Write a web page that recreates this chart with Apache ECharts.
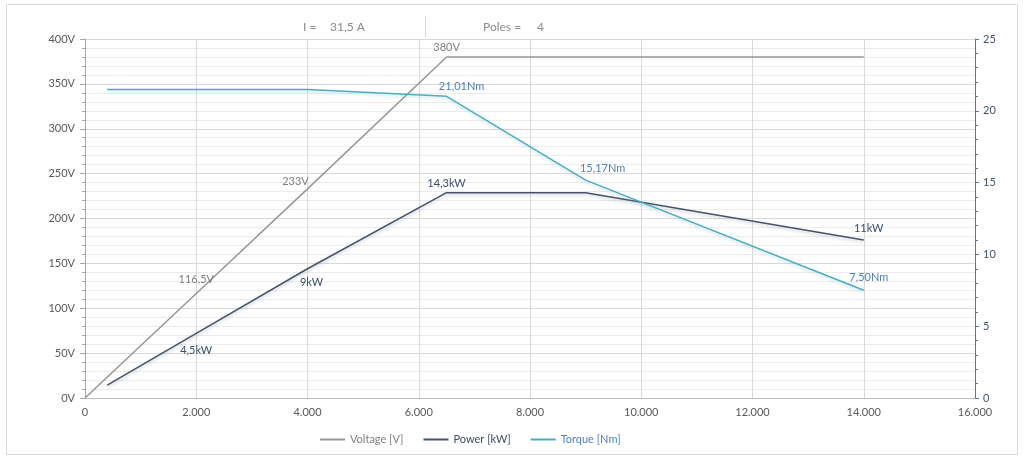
<!DOCTYPE html>
<html>
<head>
<meta charset="utf-8">
<script src="https://cdn.jsdelivr.net/npm/echarts@6/dist/echarts.min.js"></script>
<style>
html,body{margin:0;padding:0;background:#fff;}
#chart{width:1024px;height:461px;}
</style>
</head>
<body>
<div id="chart"></div>
<script>
// ---- data ----
var xTicks = [0, 2000, 4000, 6000, 8000, 10000, 12000, 14000, 16000];
var voltageRpm = [0, 2000, 4000, 6500, 14000];
var voltageV   = [0, 116.5, 233, 380, 380];
var voltageLabelIdx = [1, 2, 3];
var powerRpm = [400, 2000, 4000, 6500, 9000, 14000];
var powerKW  = [0.9, 4.5, 9, 14.3, 14.3, 11];
var powerLabelIdx = [1, 2, 3, 5];
var torqueRpm = [400, 2000, 4000, 6500, 9000, 14000];
var torqueNm  = [21.49, 21.49, 21.49, 21.01, 15.17, 7.50];
var torqueLabelIdx = [3, 4, 5];
var headerTexts = ['I =', '31,5 A', 'Poles =', '4'];

// ---- styles ----
var FONT = 'Lato, "Open Sans", sans-serif';
var cVolt = '#9a9591', cPow = '#44546a', cTorq = '#4bacc6';
var cVoltTxt = '#7f7f7f', cPowTxt = '#3b4e6b', cTorqTxt = '#4f81bd';
var TRANSP = 'rgba(0,0,0,0)';
var headerX = [303, 330, 483, 537];

var voltLabelStyle = {1:{position:'top',offset:[0,-2]}, 2:{position:'top',offset:[-12,4]}, 3:{position:'top',offset:[0,2]}};
var powLabelStyle = {1:{position:'bottom',offset:[0,6]}, 2:{position:'bottom',offset:[4,2]}, 3:{position:'top',offset:[0,2]}, 5:{position:'top',offset:[5,0]}};
var torqLabelStyle = {3:{position:'top',offset:[15,2]}, 4:{position:'top',offset:[17,0]}, 5:{position:'top',offset:[5,-1]}};

function comma(v){ return String(v).replace('.', ','); }

function buildData(xs, ys, labelIdx, styles, fmt, color){
  return xs.map(function(x, i){
    var item = {value:[x, ys[i]]};
    if (labelIdx.indexOf(i) >= 0) {
      var st = styles[i] || {position:'top'};
      item.label = {show:true, position:st.position, offset:st.offset, formatter:fmt(ys[i]), color:color, fontFamily:FONT, fontSize:11, opacity:1};
    }
    return item;
  });
}

var graphics = [
  {type:'rect', shape:{x:6.5, y:4.5, width:1011, height:450}, style:{fill:'none', stroke:'#d9d9d9', lineWidth:1}, silent:true},
  {type:'line', shape:{x1:425.5, y1:16, x2:425.5, y2:37}, style:{stroke:'#d9d9d9', lineWidth:1}}
];
headerTexts.forEach(function(t, i){
  graphics.push({type:'text', left:headerX[i], top:21, style:{text:t, fill:'#8c8c8c', font:'12px ' + FONT}});
});

var chart = echarts.init(document.getElementById('chart'), null, {renderer:'canvas'});
var option = {
  animation:false,
  backgroundColor:'#fff',
  textStyle:{fontFamily:FONT},
  grid:{left:85, right:49, top:39, bottom:63, containLabel:false},
  graphic:graphics,
  legend:{
    bottom:11, left:315, itemWidth:25, itemHeight:2, itemGap:20,
    icon:'rect',
    textStyle:{fontFamily:FONT, fontSize:11},
    data:[
      {name:'Voltage [V]', textStyle:{color:cVoltTxt}, itemStyle:{color:cVolt, opacity:1}},
      {name:'Power [kW]', textStyle:{color:cPowTxt}, itemStyle:{color:cPow, opacity:1}},
      {name:'Torque [Nm]', textStyle:{color:cTorqTxt}, itemStyle:{color:cTorq, opacity:1}}
    ]
  },
  xAxis:{
    type:'value', min:xTicks[0], max:xTicks[xTicks.length-1], interval:2000,
    axisLine:{show:true, lineStyle:{color:'#bfbfbf'}},
    axisTick:{show:false},
    axisLabel:{color:'#595959', fontSize:11, fontFamily:FONT, margin:9,
      formatter:function(v){ return v === 0 ? '0' : (v/1000).toFixed(3); }},
    splitLine:{show:true, lineStyle:{color:'#d9d9d9', width:1}}
  },
  yAxis:[
    {
      type:'value', min:0, max:400, interval:50, position:'left',
      axisLine:{show:true, lineStyle:{color:'#a6a6a6'}},
      axisTick:{show:true, inside:false, length:5, lineStyle:{color:'#a6a6a6'}},
      minorTick:{show:true, splitNumber:5, length:3, lineStyle:{color:'#a6a6a6'}},
      axisLabel:{color:'#595959', fontSize:11, fontFamily:FONT, margin:10, formatter:'{value}V'},
      splitLine:{show:true, lineStyle:{color:'#d9d9d9'}},
      minorSplitLine:{show:true, lineStyle:{color:'#ececec'}}
    },
    {
      type:'value', min:0, max:25, interval:5, position:'right',
      axisLine:{show:true, lineStyle:{color:'#5e7a96'}},
      axisTick:{show:true, inside:false, length:4, lineStyle:{color:'#5e7a96'}},
      minorTick:{show:true, splitNumber:5, length:3, lineStyle:{color:'#5e7a96'}},
      axisLabel:{color:'#44546a', fontSize:11, fontFamily:FONT, margin:8},
      splitLine:{show:false}
    }
  ],
  series:[
    {
      name:'Voltage [V]', type:'line', yAxisIndex:0, showSymbol:true, symbol:'circle', symbolSize:2,
      lineStyle:{color:cVolt, width:1.5}, itemStyle:{color:TRANSP, borderWidth:0},
      data:buildData(voltageRpm, voltageV, voltageLabelIdx, voltLabelStyle, function(v){return comma(v)+'V';}, cVoltTxt)
    },
    {
      name:'Power [kW]', type:'line', yAxisIndex:1, showSymbol:true, symbol:'circle', symbolSize:2,
      lineStyle:{color:cPow, width:1.5, shadowColor:'rgba(68,84,106,0.25)', shadowBlur:3, shadowOffsetY:2}, itemStyle:{color:TRANSP, borderWidth:0},
      data:buildData(powerRpm, powerKW, powerLabelIdx, powLabelStyle, function(v){return comma(v)+'kW';}, cPowTxt)
    },
    {
      name:'Torque [Nm]', type:'line', yAxisIndex:1, showSymbol:true, symbol:'circle', symbolSize:2,
      lineStyle:{color:cTorq, width:1.5, shadowColor:'rgba(75,172,198,0.3)', shadowBlur:3, shadowOffsetY:2}, itemStyle:{color:TRANSP, borderWidth:0},
      data:buildData(torqueRpm, torqueNm, torqueLabelIdx, torqLabelStyle, function(v){return comma(v.toFixed(2))+'Nm';}, cTorqTxt)
    }
  ]
};
chart.setOption(option);
</script>
</body>
</html>
